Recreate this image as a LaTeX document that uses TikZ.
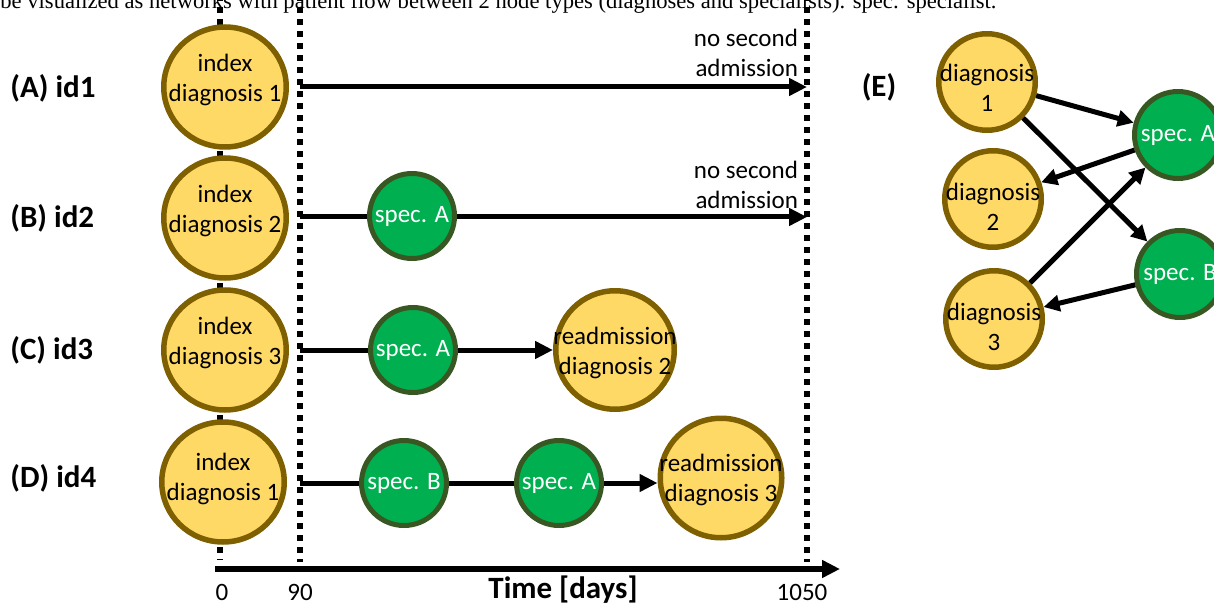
\documentclass[tikz,border=0pt]{standalone}
\usepackage{fontspec}
\setmainfont{Carlito}
\newfontfamily\capfont{Liberation Serif}
\usetikzlibrary{arrows.meta,
  positioning,
  shapes.geometric,
  backgrounds
}
\definecolor{diagfill}{RGB}{255,217,102}
\definecolor{diagline}{RGB}{127,96,0}
\definecolor{specfill}{RGB}{0,176,80}
\definecolor{specline}{RGB}{56,87,35}

\tikzset{
  txt/.style={font=\fontsize{12.5}{15}\selectfont},
  lab/.style={font=\fontsize{15.5}{18}\selectfont\bfseries},
  diag/.style 2 args={ellipse, draw=diagline, fill=diagfill, line width=2.75pt,
    inner sep=0pt, minimum width=61.25pt, minimum height=60pt,
    label={[txt,align=center,yshift=#2]center:#1}},
  spec/.style={circle, draw=specline, fill=specfill, line width=2.5pt,
    inner sep=0pt, minimum size=42.5pt,
    label={[txt,text=white]center:#1}},
  flow/.style={line width=2.5pt},
  limit/.style={line width=3pt, dash pattern=on 3pt off 3pt}
}

\begin{document}
\begin{tikzpicture}[x=0.5pt, y=-0.5pt, >={Triangle[length=9pt,width=8.5pt]}]
  \useasboundingbox (0,0) rectangle (1214,604);
  \clip (0,0) rectangle (1214,604);

  % caption line cut off by the page
  \node[anchor=base west, inner sep=0pt, font=\capfont\fontsize{11.3}{13}\selectfont]
  (caption) at (0,9) {be visualized as networks with patient flow between 2 node types
    (diagnoses and specialists). spec: specialist.};

  % patients
  \node[lab, anchor=west, inner sep=0pt] (labA) at (10,88) {(A) id1};
  \node[lab, anchor=west, inner sep=0pt] (labB) at (10,218) {(B) id2};
  \node[lab, anchor=west, inner sep=0pt] (labC) at (10,350) {(C) id3};
  \node[lab, anchor=west, inner sep=0pt] (labD) at (10,478) {(D) id4};

  \node[diag={index\\diagnosis 1}{3.5pt}] (indexA) at (225,87) {};
  \node[diag={index\\diagnosis 2}{3.5pt}] (indexB) at (225,218) {};
  \node[diag={index\\diagnosis 3}{3.5pt}] (indexC) at (225,350) {};
  \node[diag={index\\diagnosis 1}{1.5pt}] (indexD) at (223,482) {};

  \node[spec={spec. A}] (specAinB) at (412,216) {};
  \node[spec={spec. A}] (specAinC) at (413,350) {};
  \node[spec={spec. B}] (specBinD) at (404,483) {};
  \node[spec={spec. A}] (specAinD) at (559,483) {};

  \node[diag={readmission\\diagnosis 2}{-1.5pt}, minimum width=59.25pt,
    minimum height=59.25pt] (readmC) at (615,350) {};
  \node[diag={readmission\\diagnosis 3}{-1pt}, minimum width=60.75pt,
    minimum height=59.75pt] (readmD) at (721,478) {};

  \node[txt, align=right, anchor=east] (noneA) at (805,53) {no second\\admission};
  \node[txt, align=right, anchor=east] (noneB) at (805,185) {no second\\admission};

  \coordinate (startA) at (300,87);
  \coordinate (endA) at (807,87);
  \coordinate (startB) at (300,217);
  \coordinate (endB) at (807,217);
  \coordinate (startC) at (300,350);
  \coordinate (startD) at (300,483);

  \begin{scope}[on background layer]
    \draw[limit] (220,-5) -- (220,560);
    \draw[limit] (300,-5) -- (300,562);
    \draw[limit] (807,-5) -- (807,562);
    \draw[flow,->] (startA) -- (endA);
    \draw[flow,->] (startB) -- (endB);
  \end{scope}

  \draw[flow] (startC) -- (specAinC);
  \draw[flow,->] (specAinC) -- (readmC);
  \draw[flow] (startD) -- (specBinD) -- (specAinD);
  \draw[flow,->] (specAinD) -- (specAinD -| readmD.west);

  % time axis
  \coordinate (t0) at (215,569);
  \coordinate (tend) at (840,569);
  \draw[line width=2.75pt,->] (t0) -- (tend);
  \node[txt] (tick0) at (222,592) {0};
  \node[txt] (tick90) at (300,592) {90};
  \node[txt] (tick1050) at (802,592) {1050};
  \node[lab] (timelab) at (563,590) {Time [days]};

  % (E) network of all patients
  \node[lab] (labE) at (879,87) {(E)};
  \begin{scope}[spec/.append style={minimum size=43.5pt}]
    \node[diag={diagnosis\\1}{-3pt}, minimum width=48.25pt, minimum height=48.25pt]
    (diag1) at (987,82) {};
    \node[diag={diagnosis\\2}{-4pt}, minimum width=48.25pt, minimum height=48.25pt]
    (diag2) at (993,199) {};
    \node[diag={diagnosis\\3}{-4pt}, minimum width=48.25pt, minimum height=48.25pt]
    (diag3) at (994,319) {};
    \node[spec={spec. A}] (specA) at (1178,135) {};
    \node[spec={spec. B}] (specB) at (1180,274) {};
  \end{scope}

  \begin{scope}[>={Triangle[length=8pt,width=8pt]}]
    \draw[flow,->] (diag1) -- (specA);
    \draw[flow,->] (diag1) -- (specB);
    \draw[flow,->] (specA) -- (diag2);
    \draw[flow,->] (diag3) -- (specA);
    \draw[flow,->] (specB) -- (diag3);
  \end{scope}
\end{tikzpicture}
\end{document}
